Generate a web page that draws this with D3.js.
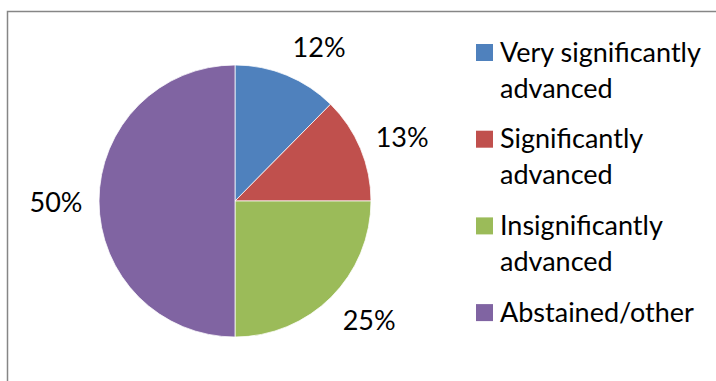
<!DOCTYPE html>
<html>
<head>
<meta charset="utf-8">
<script src="https://cdn.jsdelivr.net/npm/d3@7"></script>
<style>
  html, body { margin: 0; padding: 0; background: #fff; }
  svg { display: block; }
  text { font-family: Lato, "Noto Sans", sans-serif; fill: #000; }
</style>
</head>
<body>
<svg id="chart" width="716" height="381"></svg>
<script>
// Survey outcome shares (percent)
const categories = ["Very significantly advanced", "Significantly advanced", "Insignificantly advanced", "Abstained/other"];
const legendLines = [["Very significantly", "advanced"], ["Significantly", "advanced"], ["Insignificantly", "advanced"], ["Abstained/other"]];
const shares = [12.4, 12.6, 25, 50];
const colors = ["#4F81BD", "#C0504D", "#9BBB59", "#8064A2"];

const W = 716, H = 381;
const svg = d3.select("#chart");
const fontSize = 27;

// outer frame (continues past the right and bottom edges)
svg.append("rect")
  .attr("x", 7.5).attr("y", 11.5)
  .attr("width", 900).attr("height", 600)
  .attr("fill", "none").attr("stroke", "#868686").attr("stroke-width", 1.5);

const cx = 235, cy = 201, r = 136;
const data = categories.map((c, i) => ({ name: c, value: shares[i], color: colors[i] }));

const pie = d3.pie().value(d => d.value).sort(null);
const arc = d3.arc().innerRadius(0).outerRadius(r);
const arcs = pie(data);

const g = svg.append("g").attr("transform", `translate(${cx},${cy})`);
g.selectAll("path.slice")
  .data(arcs)
  .join("path")
  .attr("class", "slice")
  .attr("d", arc)
  .attr("fill", d => d.data.color)
  .attr("stroke", "#fff")
  .attr("stroke-width", 0.75);

// percent labels outside the rim
const fmt = d3.format(".0%");
const gap = 17, halfW = 26, halfH = 14;
const labelArc = d3.arc().innerRadius(r + gap).outerRadius(r + gap);
g.selectAll("text.pct")
  .data(arcs)
  .join("text")
  .attr("class", "pct")
  .attr("font-size", fontSize)
  .attr("text-anchor", "middle")
  .attr("dominant-baseline", "central")
  .attr("transform", d => {
    const mid = (d.startAngle + d.endAngle) / 2;
    const [px, py] = labelArc.centroid(d);
    const sx = Math.max(-1, Math.min(1, Math.sin(mid) * 4));
    const sy = -Math.cos(mid);
    return `translate(${px + halfW * sx},${py + halfH * sy})`;
  })
  .text(d => fmt(d.data.value / 100));

// legend
const legend = svg.append("g").attr("transform", "translate(476,44)");
const itemStep = 86.7, lineStep = 36;
const items = legend.selectAll("g.item")
  .data(data)
  .join("g")
  .attr("class", "item")
  .attr("transform", (d, i) => `translate(0,${i * itemStep})`);
items.append("rect")
  .attr("width", 17).attr("height", 17)
  .attr("fill", d => d.color);
items.each(function (d, i) {
  const t = d3.select(this).append("text")
    .attr("font-size", fontSize)
    .attr("x", 24).attr("y", 17.5);
  legendLines[i].forEach((line, j) => {
    t.append("tspan").attr("x", 24).attr("dy", j === 0 ? 0 : lineStep).text(line);
  });
});
</script>
</body>
</html>
